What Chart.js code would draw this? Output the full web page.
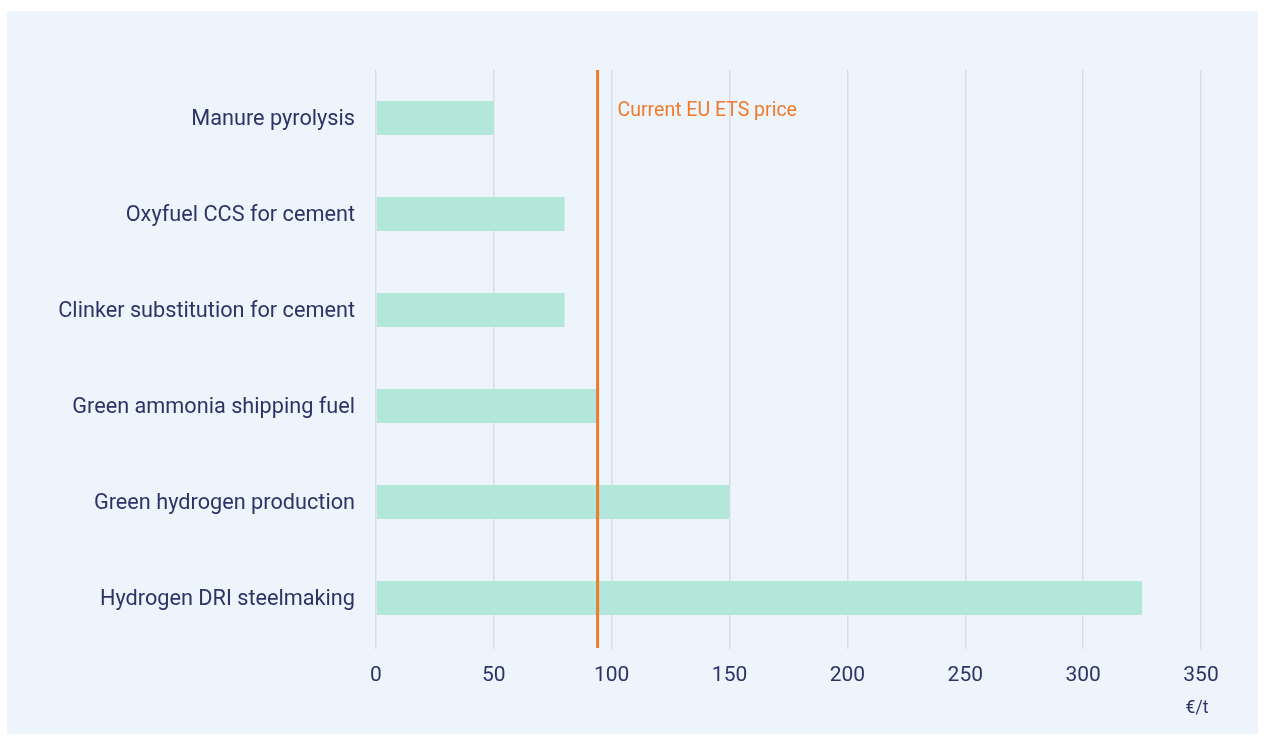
<!DOCTYPE html>
<html>
<head>
<meta charset="utf-8">
<script src="https://cdn.jsdelivr.net/npm/chart.js@4"></script>
<style>
  html, body { margin: 0; padding: 0; background: #ffffff; }
  #wrap { position: relative; width: 1265px; height: 740px; }
</style>
</head>
<body>
<div id="wrap"><canvas id="abatementChart" width="1265" height="740"></canvas></div>
<script>
// ====== Data ======
const categories = [
  "Manure pyrolysis",
  "Oxyfuel CCS for cement",
  "Clinker substitution for cement",
  "Green ammonia shipping fuel",
  "Green hydrogen production",
  "Hydrogen DRI steelmaking",
];
const abatementCost = [50, 80, 80, 94, 150, 325];
const etsPrice = 94;
const etsLabel = "Current EU ETS price";
const unitLabel = "€/t";
const xTicks = [0, 50, 100, 150, 200, 250, 300, 350];

const textColor = "#2e3366";
const orange = "#f07a2c";

// ====== Plugins ======
const panelBackground = {
  id: "panelBackground",
  beforeDraw(chart) {
    const ctx = chart.ctx;
    ctx.save();
    ctx.fillStyle = "#eef4fc";
    ctx.fillRect(7, 11, 1251, 723);
    ctx.restore();
  },
};

const etsLine = {
  id: "etsLine",
  afterDatasetsDraw(chart) {
    const { ctx, chartArea, scales } = chart;
    const x = scales.x.getPixelForValue(etsPrice);
    ctx.save();
    ctx.strokeStyle = orange;
    ctx.lineWidth = 3;
    ctx.beginPath();
    ctx.moveTo(x, chartArea.top);
    ctx.lineTo(x, chartArea.bottom + 2);
    ctx.stroke();
    ctx.fillStyle = orange;
    ctx.font = "19.5px Roboto";
    ctx.textBaseline = "middle";
    ctx.fillText(etsLabel, x + 20, chartArea.top + 41);
    // unit under the last tick
    ctx.fillStyle = textColor;
    ctx.font = "17.5px Roboto";
    ctx.textAlign = "center";
    ctx.fillText(unitLabel, scales.x.getPixelForValue(xTicks[xTicks.length - 1]) - 4, 709);
    ctx.restore();
  },
};

// ====== Chart ======
const ctx = document.getElementById("abatementChart");
new Chart(ctx, {
  type: "bar",
  data: {
    labels: categories,
    datasets: [
      {
        data: abatementCost,
        backgroundColor: "#b3e7d9",
        borderWidth: 0,
        categoryPercentage: 1,
        barPercentage: 0.355,
      },
    ],
  },
  options: {
    indexAxis: "y",
    responsive: false,
    animation: false,
    layout: { padding: { top: 70, left: 0, right: 64, bottom: 0 } },
    plugins: {
      legend: { display: false },
      tooltip: { enabled: false },
    },
    scales: {
      x: {
        min: 0,
        max: 350,
        afterFit(scale) { scale.height = 94; },
        afterBuildTicks(scale) { scale.ticks = xTicks.map((v) => ({ value: v })); },
        grid: { color: "#d9dde5", lineWidth: 1.5, tickLength: 3 },
        border: { display: false },
        ticks: {
          color: textColor,
          font: { family: "Roboto", size: 21 },
          padding: 14,
        },
      },
      y: {
        afterFit(scale) { scale.width = 376; },
        grid: { display: false, drawTicks: false },
        border: { display: false },
        ticks: {
          color: textColor,
          font: { family: "Roboto", size: 21.7 },
          padding: 21,
          labelOffset: 2,
        },
      },
    },
  },
  plugins: [panelBackground, etsLine],
});
</script>
</body>
</html>
